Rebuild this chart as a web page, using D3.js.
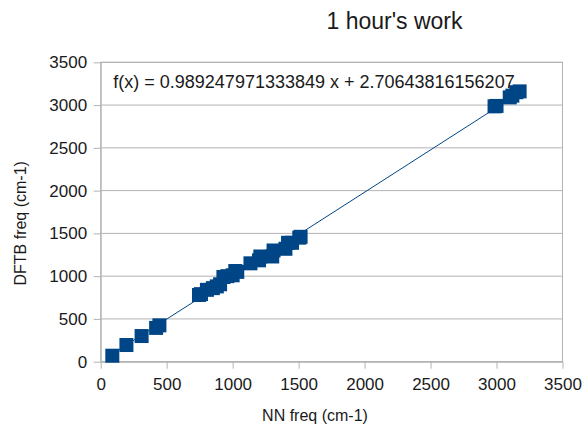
<!DOCTYPE html>
<html>
<head>
<meta charset="utf-8">
<script src="https://cdn.jsdelivr.net/npm/d3@7"></script>
<style>
  body { margin: 0; background: #fff; }
  text { font-family: "Liberation Sans", Arial, sans-serif; }
</style>
</head>
<body>
<div id="chart"></div>
<script>
// data
var nnFreq   = [88, 195, 310, 420, 445, 745, 760, 805, 850, 880, 905, 930, 960, 1000, 1020, 1035,
                1135, 1200, 1210, 1300, 1310, 1400, 1420, 1450, 1505, 1515,
                2985, 3000, 3100, 3120, 3150, 3175];
var dftbFreq = [70, 195, 300, 395, 425, 780, 790, 840, 860, 880, 905, 990, 1000, 1010, 1060, 1050,
                1150, 1185, 1230, 1230, 1300, 1320, 1390, 1390, 1450, 1460,
                2985, 2990, 3090, 3110, 3150, 3160];
var tickValues = [0, 500, 1000, 1500, 2000, 2500, 3000, 3500];
var slope = 0.989247971333849, intercept = 2.70643816156207;
var equation = "f(x) = 0.989247971333849 x + 2.70643816156207";

var W = 582, H = 428;
var margin = {top: 62.3, right: 19.5, bottom: 66.3, left: 100.7};

var svg = d3.select("#chart")
  .append("svg")
  .attr("width", W)
  .attr("height", H);

var x = d3.scaleLinear().domain([0, 3500]).range([margin.left, W - margin.right]);
var y = d3.scaleLinear().domain([0, 3500]).range([H - margin.bottom, margin.top]);

// horizontal grid lines
svg.append("g")
  .selectAll("line")
  .data(tickValues)
  .enter()
  .append("line")
  .attr("x1", x(0))
  .attr("x2", x(3500))
  .attr("y1", d => y(d))
  .attr("y2", d => y(d))
  .attr("stroke", "#b3b3b3");

// plot border
svg.append("rect")
  .attr("x", x(0))
  .attr("y", y(3500))
  .attr("width", x(3500) - x(0))
  .attr("height", y(0) - y(3500))
  .attr("fill", "none")
  .attr("stroke", "#b3b3b3");

// axes
var fmt = d3.format("d");
var xAxis = svg.append("g")
  .attr("transform", `translate(0,${y(0)})`)
  .call(d3.axisBottom(x).tickValues(tickValues).tickFormat(fmt).tickSize(7).tickSizeOuter(0).tickPadding(9));

var yAxis = svg.append("g")
  .attr("transform", `translate(${x(0)},0)`)
  .call(d3.axisLeft(y).tickValues(tickValues).tickFormat(fmt).tickSize(7).tickSizeOuter(0).tickPadding(6.5));

[xAxis, yAxis].forEach(function(g) {
  g.select(".domain").attr("stroke", "#b3b3b3");
  g.selectAll(".tick line").attr("stroke", "#b3b3b3");
  g.selectAll(".tick text")
    .attr("fill", "#1a1a1a")
    .style("font-size", "17px")
    .style("font-family", "Liberation Sans, Arial, sans-serif");
});

// trend line over the data range
var xr = d3.extent(nnFreq);
svg.append("line")
  .attr("x1", x(xr[0]))
  .attr("x2", x(xr[1]))
  .attr("y1", y(slope * xr[0] + intercept))
  .attr("y2", y(slope * xr[1] + intercept))
  .attr("stroke", "#004586")
  .attr("stroke-width", 1);

// square markers
var s = 14;
svg.append("g")
  .selectAll("rect")
  .data(nnFreq.map((d, i) => [d, dftbFreq[i]]))
  .enter()
  .append("rect")
  .attr("x", d => x(d[0]) - s / 2)
  .attr("y", d => y(d[1]) - s / 2)
  .attr("width", s)
  .attr("height", s)
  .attr("fill", "#004586");

// equation
svg.append("text")
  .attr("x", 113.3)
  .attr("y", 88.3)
  .style("font-size", "18px")
  .attr("fill", "#1a1a1a")
  .text(equation);

// title
svg.append("text")
  .attr("x", 394.5)
  .attr("y", 29.3)
  .attr("text-anchor", "middle")
  .style("font-size", "23px")
  .attr("fill", "#1a1a1a")
  .text("1 hour's work");

// axis titles
svg.append("text")
  .attr("x", 315)
  .attr("y", 421)
  .attr("text-anchor", "middle")
  .style("font-size", "16px")
  .attr("fill", "#1a1a1a")
  .text("NN freq (cm-1)");

svg.append("text")
  .attr("transform", "translate(26,223.3) rotate(-90)")
  .attr("text-anchor", "middle")
  .style("font-size", "16px")
  .attr("fill", "#1a1a1a")
  .text("DFTB freq (cm-1)");
</script>
</body>
</html>
